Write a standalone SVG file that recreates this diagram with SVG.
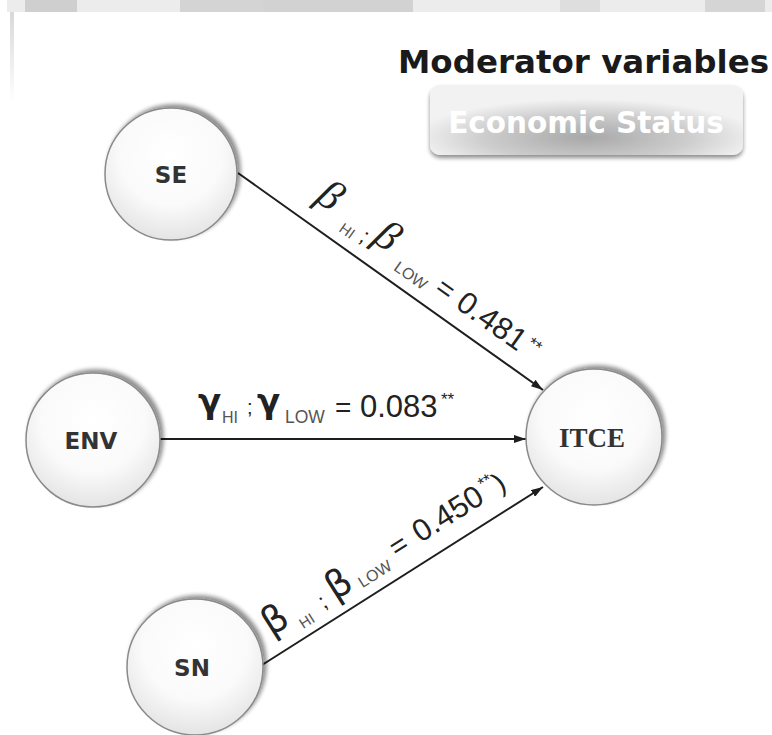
<svg xmlns="http://www.w3.org/2000/svg" width="772" height="735" viewBox="0 0 772 735">
<defs>
<style>
.node circle{fill:url(#cg);stroke:#8a8a8a;stroke-width:1.5;filter:url(#sh)}
.nt{font-family:"DejaVu Sans",sans-serif;font-weight:bold;font-size:23px;fill:#333;text-anchor:middle}
.edge{stroke:#1e1e1e;stroke-width:2;fill:none;marker-end:url(#ah)}
.lbl{font-family:"Liberation Sans",Arial,sans-serif;fill:#222}
.bi{font-family:"Liberation Serif",serif;font-style:italic}
.bs{font-family:"DejaVu Sans",sans-serif}
.sub{fill:#555}
</style>
<radialGradient id="cg" cx="50%" cy="35%" r="65%">
<stop offset="0" stop-color="#ffffff"/>
<stop offset="0.6" stop-color="#fafafa"/>
<stop offset="1" stop-color="#e4e4e4"/>
</radialGradient>
<radialGradient id="bg" cx="50%" cy="75%" r="55%" fx="50%" fy="75%">
<stop offset="0" stop-color="#a8a8a8"/>
<stop offset="0.6" stop-color="#cdcdcd"/>
<stop offset="1" stop-color="#f2f2f2"/>
</radialGradient>
<filter id="sh" x="-20%" y="-20%" width="140%" height="140%">
<feGaussianBlur in="SourceAlpha" stdDeviation="2"/>
<feOffset dx="3" dy="-3" result="b"/>
<feComponentTransfer><feFuncA type="linear" slope="0.45"/></feComponentTransfer>
<feMerge><feMergeNode/><feMergeNode in="SourceGraphic"/></feMerge>
</filter>
<filter id="bsh" x="-10%" y="-20%" width="120%" height="150%">
<feGaussianBlur in="SourceAlpha" stdDeviation="2"/>
<feOffset dx="0" dy="3"/>
<feComponentTransfer><feFuncA type="linear" slope="0.45"/></feComponentTransfer>
<feMerge><feMergeNode/><feMergeNode in="SourceGraphic"/></feMerge>
</filter>
<linearGradient id="vl" x1="0" y1="0" x2="0" y2="1">
<stop offset="0" stop-color="#d8d8d8"/>
<stop offset="1" stop-color="#ffffff"/>
</linearGradient>
<marker id="ah" viewBox="0 0 12 8" refX="12" refY="4" markerWidth="12" markerHeight="8" markerUnits="userSpaceOnUse" orient="auto">
<path d="M0,0 L12,4 L0,8 Z" fill="#1e1e1e"/>
</marker>
</defs>
<rect width="772" height="735" fill="#ffffff"/>
<g id="topstrip">
<rect x="7" y="0" width="765" height="12" fill="#ececec"/>
<rect x="25" y="0" width="52" height="12" fill="#cfcfcf"/>
<rect x="180" y="0" width="95" height="12" fill="#d4d4d4"/>
<rect x="263" y="0" width="150" height="12" fill="#d2d2d2"/>
<rect x="560" y="0" width="40" height="12" fill="#dedede"/>
<rect x="705" y="0" width="60" height="12" fill="#d5d5d5"/>
<rect x="10" y="12" width="4" height="90" fill="url(#vl)"/>
</g>
<g id="title">
<text x="398" y="73" font-family="DejaVu Sans,sans-serif" font-weight="bold" font-size="32.5" fill="#1a1a1a">Moderator variables</text>
</g>
<g id="economic-status">
<rect x="430" y="85" width="313" height="70" rx="10" fill="url(#bg)" filter="url(#bsh)"/>
<text x="586" y="133" font-family="DejaVu Sans,sans-serif" font-weight="bold" font-size="29.5" fill="#ffffff" text-anchor="middle">Economic Status</text>
</g>
<g id="connectors">
<line class="edge" x1="238" y1="173" x2="543" y2="390"/>
<line class="edge" x1="160" y1="439" x2="526" y2="439"/>
<line class="edge" x1="262" y1="665" x2="543" y2="487"/>
</g>
<g id="labels" class="lbl">
<text transform="translate(238,173) rotate(35.4)">
<tspan class="bi" x="78" y="-22" font-size="42">β</tspan>
<tspan class="sub" x="115" y="-11" font-size="15">HI</tspan>
<tspan x="137" y="-15" font-size="22">;</tspan>
<tspan class="bi" x="148" y="-22" font-size="42">β</tspan>
<tspan class="sub" x="182" y="-11" font-size="16">LOW</tspan>
<tspan x="228" y="-16" font-size="29">=</tspan>
<tspan x="254" y="-16" font-size="31">0.481</tspan>
<tspan x="335" y="-26" font-size="17">**</tspan>
</text>
<text>
<tspan class="bs" x="198" y="413" font-size="34" font-weight="bold">γ</tspan>
<tspan class="sub" x="222" y="423" font-size="16">HI</tspan>
<tspan x="247" y="414" font-size="20">;</tspan>
<tspan class="bs" x="257" y="413" font-size="34" font-weight="bold">γ</tspan>
<tspan class="sub" x="285" y="423" font-size="17.5">LOW</tspan>
<tspan x="335" y="417" font-size="28">=</tspan>
<tspan x="360" y="417" font-size="31">0.083</tspan>
<tspan x="441" y="405" font-size="17">**</tspan>
</text>
<text transform="translate(262,665) rotate(-32.35)">
<tspan class="bs" x="23" y="-19" font-size="38">β</tspan>
<tspan class="sub" x="54" y="-8" font-size="15">HI</tspan>
<tspan x="82" y="-14" font-size="22">;</tspan>
<tspan class="bs" x="96" y="-15" font-size="38">β</tspan>
<tspan class="sub" x="126" y="-11" font-size="16">LOW</tspan>
<tspan x="171" y="-18" font-size="29">=</tspan>
<tspan x="199" y="-18" font-size="31">0.450</tspan>
<tspan x="280" y="-30" font-size="17">**</tspan>
<tspan x="293" y="-18" font-size="28">)</tspan>
</text>
</g>
<g id="node-SE" class="node"><circle cx="171" cy="174" r="66"/><text class="nt" x="171" y="183">SE</text></g>
<g id="node-ENV" class="node"><circle cx="93" cy="440" r="67"/><text class="nt" x="91" y="449">ENV</text></g>
<g id="node-ITCE" class="node"><circle cx="594" cy="437" r="68"/><text x="592" y="447" font-family="Liberation Serif,serif" font-weight="bold" font-size="27" fill="#333" text-anchor="middle">ITCE</text></g>
<g id="node-SN" class="node"><circle cx="195" cy="667" r="68"/><text class="nt" x="192" y="676">SN</text></g>
</svg>
